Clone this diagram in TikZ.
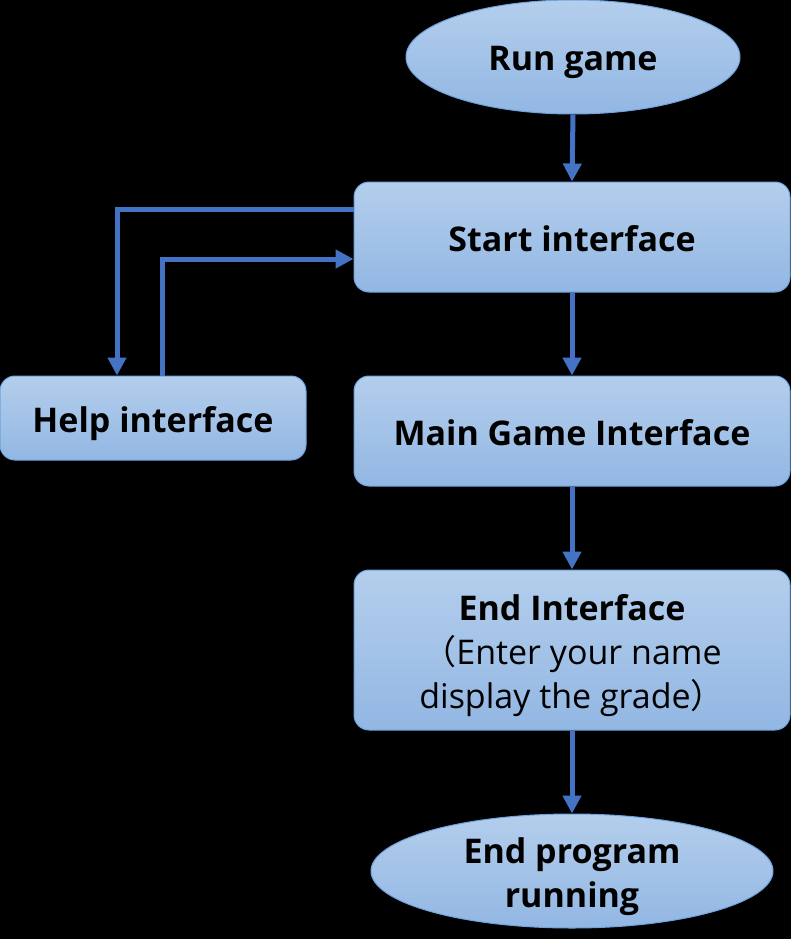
\documentclass[tikz,border=0pt]{standalone}
\usepackage{fontspec}
\setmainfont{Open Sans}
\newfontfamily\cjkf{Noto Sans CJK SC}
\usetikzlibrary{arrows.meta,shapes.geometric}
\definecolor{boxtop}{HTML}{B4CEEC}
\definecolor{boxbot}{HTML}{92B7E3}
\definecolor{boxline}{HTML}{6FA3DC}
\definecolor{arrcol}{HTML}{4472C4}
\tikzset{
  boxbase/.style={draw=boxline, line width=1pt, top color=boxtop, bottom color=boxbot, font=\fontsize{34}{44}\selectfont\bfseries, align=center, inner sep=0pt, text height=28pt, text depth=0pt},
  rbox/.style={boxbase, rectangle, rounded corners=15pt},
  ebox/.style={boxbase, ellipse},
  arr/.style={draw=arrcol, line width=5pt, -{Triangle[width=18pt,length=18pt]}},
}
\begin{document}
\begin{tikzpicture}[x=1pt,y=-1pt]
\fill[black] (0,0) rectangle (791,939);
\useasboundingbox (0,0) rectangle (791,939);
\node[ebox, minimum width=334pt, minimum height=114pt] (run) at (573,57) {Run game};
\node[rbox, minimum width=436pt, minimum height=110pt] (start) at (572,237) {Start interface};
\node[rbox, minimum width=306pt, minimum height=84pt] (help) at (153,418) {Help interface};
\node[rbox, minimum width=436pt, minimum height=110pt] (main) at (572,431) {Main Game Interface};
\node[rbox, minimum width=436pt, minimum height=160pt, text height=116pt] (endi) at (572,650) {End Interface\\{\mdseries\cjkf （}{\mdseries Enter your name}\\{\mdseries display the grade}{\mdseries\cjkf ）}};
\node[ebox, minimum width=402pt, minimum height=114pt, text height=72pt] (endp) at (572,871) {End program\\running};
\draw[arr] (run.south) -- (start.north);
\draw[arr] (start.south) -- (main.north);
\draw[arr] (main.south) -- (endi.north);
\draw[arr] (endi.south) -- (endp.north);
\draw[arr] ([yshift=28pt]start.west) -| ([xshift=-36pt]help.north);
\draw[arr] ([xshift=9pt]help.north) |- ([yshift=-22pt]start.west);
\end{tikzpicture}
\end{document}
